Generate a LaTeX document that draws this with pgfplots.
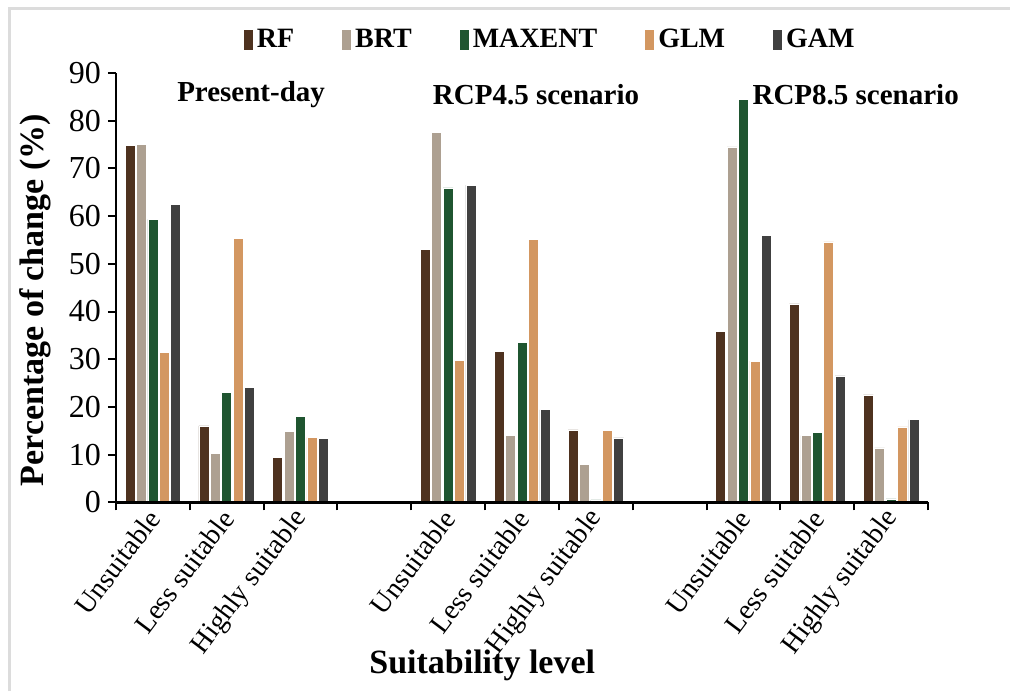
\documentclass[border=0pt]{standalone}
\usepackage{pgfplots}
\pgfplotsset{compat=1.18}
\usepackage{fontspec}
\setmainfont{Liberation Serif}
\definecolor{rf}{HTML}{4E321F}
\definecolor{brt}{HTML}{ADA091}
\definecolor{maxent}{HTML}{1F5530}
\definecolor{glm}{HTML}{D39761}
\definecolor{gam}{HTML}{404040}
\definecolor{framegray}{HTML}{DCDCDC}
\begin{document}
\begin{tikzpicture}
\path[use as bounding box] (0,0) rectangle (505pt,345.5pt);
\fill[white] (0,0) rectangle (505pt,345.5pt);
\draw[line width=1.5pt, color=framegray] (4.5pt,0) -- (4.5pt,341pt) -- (505pt,341pt);
\begin{axis}[
  at={(58pt,94.35pt)}, anchor=south west,
  scale only axis, width=406pt, height=214.65pt,
  xmin=-0.5, xmax=10.5, ymin=0, ymax=90,
  axis x line=bottom, axis y line=left,
  axis line style={-, line width=1.2pt},
  axis on top,
  tick align=outside,
  major tick length=4pt,
  every tick/.style={black, line width=1pt},
  ybar=0.7pt, bar width=5pt,
  xtick={-0.5,0.5,...,10.5},
  x tick label as interval,
  xticklabels={Unsuitable,Less suitable,Highly suitable,{},Unsuitable,Less suitable,Highly suitable,{},Unsuitable,Less suitable,Highly suitable},
  xticklabel style={rotate=53, anchor=east, xshift=2.5pt, yshift=-1.5pt, font=\fontsize{14}{16}\selectfont},
  ytick={0,10,...,90},
  yticklabel style={font=\fontsize{16}{18}\selectfont},
  /pgf/number format/assume math mode=true,
  ylabel={Percentage of change (\%)},
  ylabel style={at={(axis description cs:-0.0998,0.471)}, anchor=center, rotate=0, font=\bfseries\fontsize{17}{19}\selectfont},
  xlabel={Suitability level},
  xlabel style={at={(axis description cs:0.451,-0.379)}, anchor=center, font=\bfseries\fontsize{17}{19}\selectfont},
  legend columns=5,
  legend style={draw=none, fill=none, at={(axis description cs:0.536,1.077)}, anchor=center,
    font=\bfseries\fontsize{14}{16}\selectfont,
    /tikz/every even column/.append style={column sep=22pt}},
  legend image code/.code={\fill[#1, draw=none] (0pt,-5pt) rectangle (4.5pt,5pt);},
  clip=false,
]
\addplot[fill=rf, draw=white, line width=0.3pt] coordinates {(0,74.9) (1,16.0) (2,9.4) (4,53.1) (5,31.7) (6,15.2) (8,35.8) (9,41.6) (10,22.5)};
\addplot[fill=brt, draw=white, line width=0.3pt] coordinates {(0,75.1) (1,10.3) (2,14.9) (4,77.6) (5,14.1) (6,8.0) (8,74.5) (9,14.0) (10,11.4)};
\addplot[fill=maxent, draw=white, line width=0.3pt] coordinates {(0,59.3) (1,23.0) (2,18.0) (4,65.9) (5,33.6) (6,0.5) (8,84.5) (9,14.7) (10,0.7)};
\addplot[fill=glm, draw=white, line width=0.3pt] coordinates {(0,31.4) (1,55.3) (2,13.6) (4,29.8) (5,55.2) (6,15.0) (8,29.6) (9,54.6) (10,15.8)};
\addplot[fill=gam, draw=white, line width=0.3pt] coordinates {(0,62.4) (1,24.1) (2,13.4) (4,66.5) (5,19.4) (6,13.5) (8,55.9) (9,26.5) (10,17.3)};
\legend{RF,BRT,MAXENT,GLM,GAM}
\node[font=\bfseries\fontsize{14.5}{16}\selectfont] at (axis cs:1.33,85.4) {Present-day};
\node[font=\bfseries\fontsize{14.5}{16}\selectfont] at (axis cs:5.19,85.4) {RCP4.5 scenario};
\node[font=\bfseries\fontsize{14.5}{16}\selectfont] at (axis cs:9.52,85.4) {RCP8.5 scenario};
\end{axis}
\end{tikzpicture}
\end{document}
